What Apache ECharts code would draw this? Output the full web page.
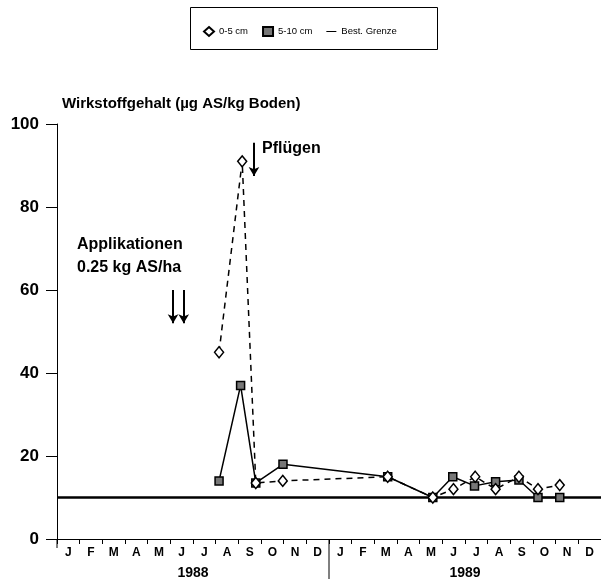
<!DOCTYPE html>
<html>
<head>
<meta charset="utf-8">
<script src="https://cdn.jsdelivr.net/npm/echarts@6/dist/echarts.min.js"></script>
<style>
html,body{margin:0;padding:0;background:#fff;}
#c{width:601px;height:581px;}
</style>
</head>
<body>
<div id="c"></div>
<script>
// ---- data ----
const months = ['J','F','M','A','M','J','J','A','S','O','N','D','J','F','M','A','M','J','J','A','S','O','N','D'];
const years = ['1988','1989'];
const yTicks = [0, 20, 40, 60, 80, 100];
// x values are in months since 1 Jan 1988
const x05 = [7.15, 8.17, 8.77, 9.96, 14.59, 16.58, 17.49, 18.45, 19.35, 20.38, 21.22, 22.18];
const v05 = [45, 91, 13.5, 14, 15, 10, 12, 15, 12, 15, 12, 13];
const x510 = [7.15, 8.1, 8.77, 9.97, 14.59, 16.58, 17.46, 18.42, 19.35, 20.38, 21.22, 22.18];
const v510 = [14, 37, 13.5, 18, 15, 10, 15, 12.8, 13.8, 14.2, 10, 10];
const grenze = 10;
const grenzeX = [0, 24];
const applX = [5.12, 5.59];
const applFrom = 60, applTo = 52;
const pfluegX = 8.69;
const pfluegFrom = 95.5, pfluegTo = 87.5;

const FONT = '"Liberation Sans", Arial, Helvetica, sans-serif';
const chart = echarts.init(document.getElementById('c'));

const arrowLines = applX.map(x => [{coord: [x, applFrom]}, {coord: [x, applTo]}]);
arrowLines.push([{coord: [pfluegX, pfluegFrom]}, {coord: [pfluegX, pfluegTo]}]);

chart.setOption({
  animation: false,
  backgroundColor: '#fff',
  grid: {left: 57, right: 0, top: 124, bottom: 42},
  legend: {
    left: 198, top: 21,
    itemWidth: 10, itemHeight: 9, itemGap: 14,
    symbolKeepAspect: true,
    textStyle: {fontFamily: FONT, fontSize: 9.5, color: '#000'},
    data: [
      {name: '0-5 cm', icon: 'diamond'},
      {name: '5-10 cm', icon: 'rect'},
      {name: 'Best. Grenze', icon: 'path://M0,0H20V2H0Z'}
    ]
  },
  xAxis: [
    {
      type: 'category', data: months, boundaryGap: true, gridIndex: 0,
      axisLine: {lineStyle: {color: '#000', width: 1}},
      axisTick: {show: true, alignWithLabel: false, length: 5, interval: 0, lineStyle: {color: '#000'}},
      axisLabel: {interval: 0, margin: 8, color: '#000', fontFamily: FONT, fontWeight: 'bold', fontSize: 12},
      splitLine: {show: false}
    },
    {type: 'value', min: 0, max: 24, show: false, gridIndex: 0},
    {
      type: 'category', data: years, boundaryGap: true, gridIndex: 0, position: 'bottom',
      axisLine: {show: false}, axisTick: {show: false},
      axisLabel: {margin: 27, color: '#000', fontFamily: FONT, fontWeight: 'bold', fontSize: 14}
    }
  ],
  yAxis: {
    type: 'value', min: 0, max: 100, interval: 20,
    axisLine: {show: true, lineStyle: {color: '#000', width: 1}},
    axisTick: {show: true, length: 11, lineStyle: {color: '#000'}},
    axisLabel: {margin: 18, color: '#000', fontFamily: FONT, fontWeight: 'bold', fontSize: 17,
      formatter: v => yTicks.includes(v) ? String(v) : ''},
    splitLine: {show: false}
  },
  series: [
    {
      name: 'Best. Grenze', type: 'line', xAxisIndex: 1, symbol: 'none',
      data: grenzeX.map(x => [x, grenze]),
      lineStyle: {color: '#000', width: 2.5}, itemStyle: {color: '#000'},
      markLine: {
        silent: true, symbol: ['none', 'arrow'], symbolSize: [8, 9],
        label: {show: false},
        lineStyle: {color: '#000', width: 2, type: 'solid'},
        data: arrowLines
      }
    },
    {
      name: '5-10 cm', type: 'line', xAxisIndex: 1, symbol: 'rect', symbolSize: 8,
      data: x510.map((x, i) => [x, v510[i]]),
      lineStyle: {color: '#000', width: 1.5, type: 'solid'},
      itemStyle: {color: '#777', borderColor: '#000', borderWidth: 1.5}
    },
    {
      name: '0-5 cm', type: 'line', xAxisIndex: 1, symbol: 'diamond', symbolSize: [9, 11],
      data: x05.map((x, i) => [x, v05[i]]),
      lineStyle: {color: '#000', width: 1.5, type: [6, 5]},
      itemStyle: {color: '#fff', borderColor: '#000', borderWidth: 1.5}
    }
  ]
});

const xDiv = chart.convertToPixel({xAxisIndex: 1}, 12);
const y0 = chart.convertToPixel({yAxisIndex: 0}, 0);
const xL = chart.convertToPixel({xAxisIndex: 1}, 0);

chart.setOption({
  graphic: [
    {type: 'rect', shape: {x: 190.5, y: 7.5, width: 247, height: 42},
     style: {fill: 'none', stroke: '#000', lineWidth: 1}},
    {type: 'line', shape: {x1: xDiv, y1: y0, x2: xDiv, y2: y0 + 40},
     style: {stroke: '#000', lineWidth: 1}},
    {type: 'line', shape: {x1: xL, y1: y0, x2: xL, y2: y0 + 9},
     style: {stroke: '#000', lineWidth: 1}},
    {type: 'text', left: 62, top: 96,
     style: {text: 'Wirkstoffgehalt (\u00B5g AS/kg Boden)', font: 'bold 15px ' + FONT, fill: '#000'}},
    {type: 'text', left: 262, top: 141,
     style: {text: 'Pfl\u00FCgen', font: 'bold 16px ' + FONT, fill: '#000'}},
    {type: 'text', left: 77, top: 237,
     style: {text: 'Applikationen', font: 'bold 16px ' + FONT, fill: '#000'}},
    {type: 'text', left: 77, top: 260,
     style: {text: '0.25 kg AS/ha', font: 'bold 16px ' + FONT, fill: '#000'}}
  ]
});
</script>
</body>
</html>
